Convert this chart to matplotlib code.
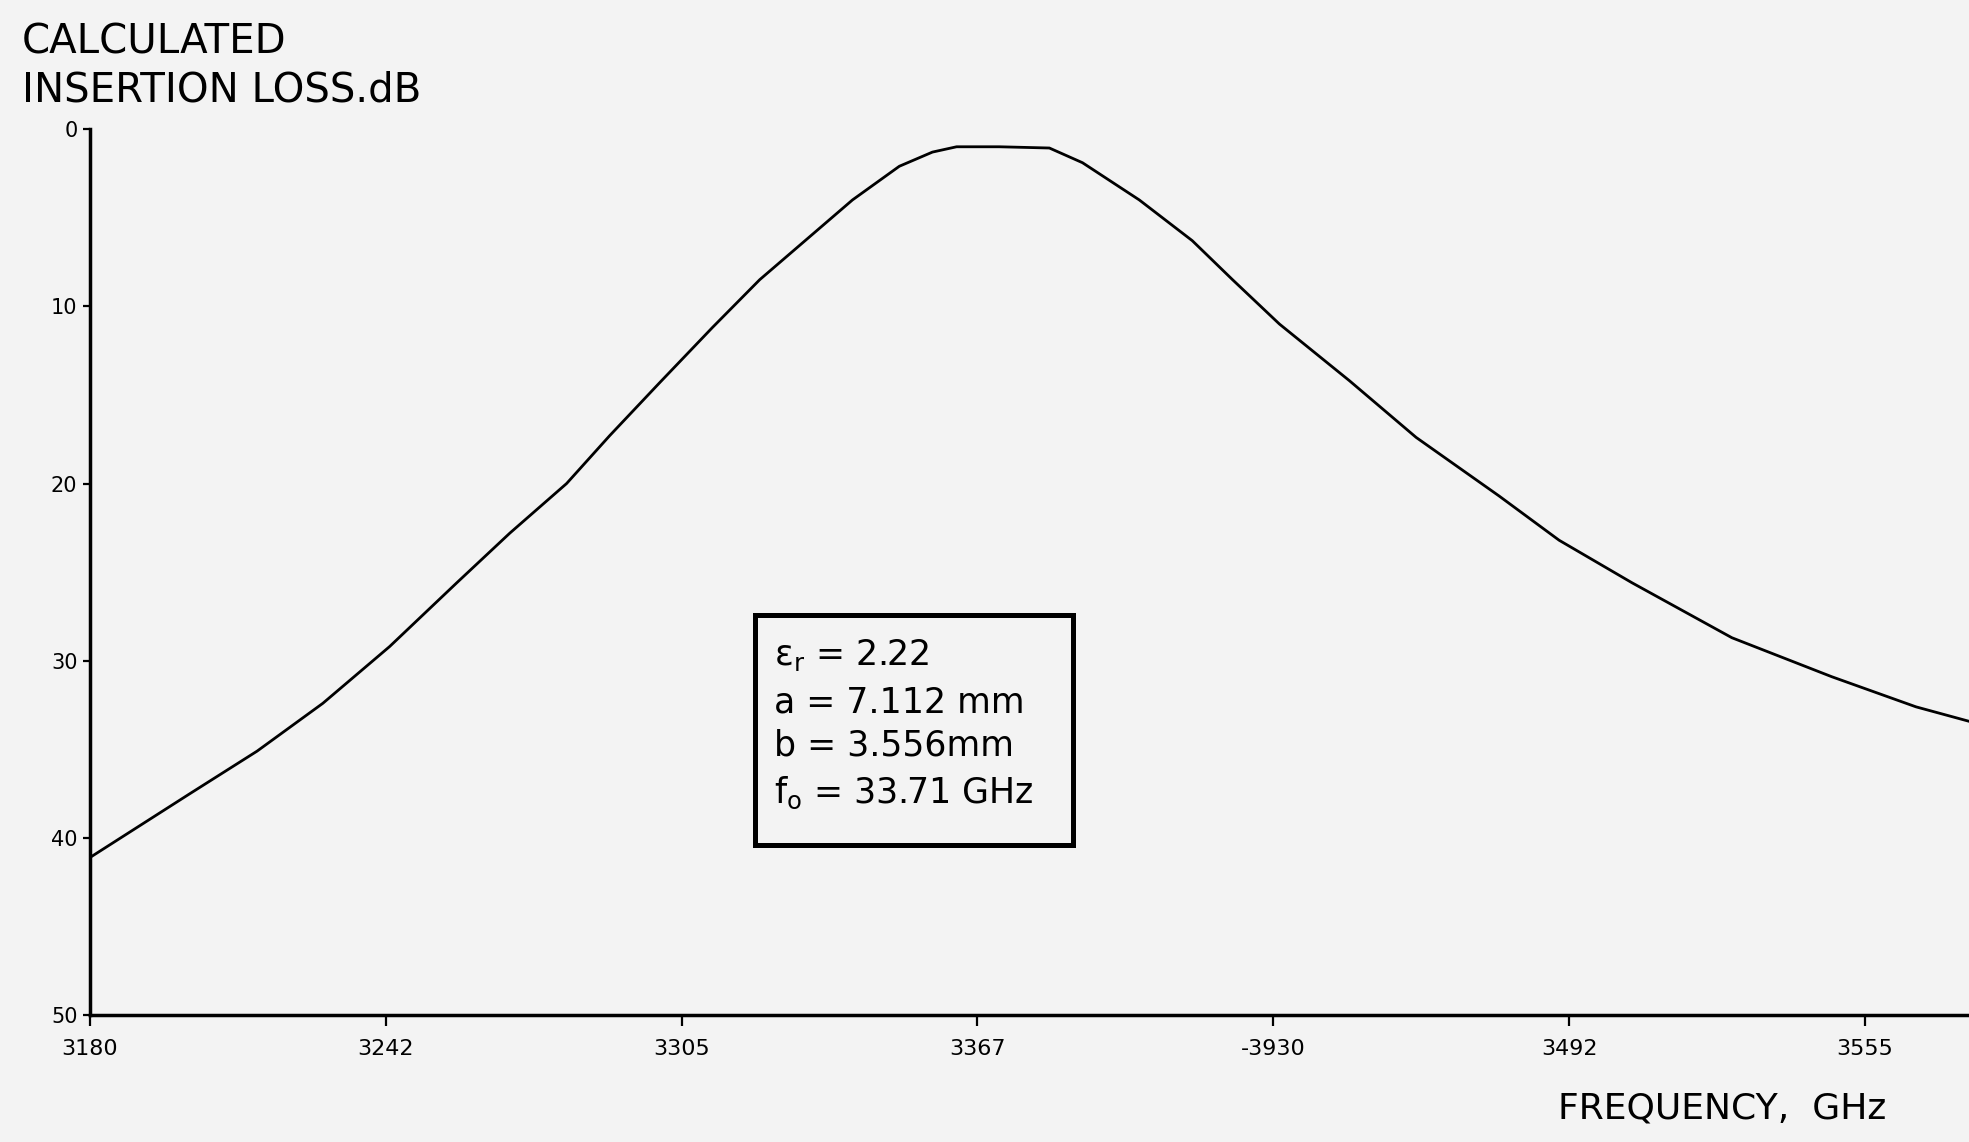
import numpy as np
import matplotlib; matplotlib.use("Agg")
import matplotlib.pyplot as plt
from matplotlib.patches import Rectangle

# frequency (GHz) vs calculated insertion loss (dB)
freq = [31.800, 32.011, 32.153, 32.292, 32.433, 32.575, 32.687, 32.807, 32.898, 33.004,
        33.115, 33.215, 33.411, 33.510, 33.580, 33.631, 33.721, 33.827, 33.897, 34.017,
        34.129, 34.214, 34.313, 34.461, 34.602, 34.777, 34.904, 35.058, 35.269, 35.480,
        35.658, 35.768]
loss = [41.1, 37.5, 35.1, 32.4, 29.2, 25.6, 22.8, 20.0, 17.3, 14.3,
        11.2, 8.5, 4.0, 2.1, 1.3, 1.0, 1.0, 1.07, 1.9, 4.0,
        6.3, 8.5, 11.0, 14.2, 17.4, 20.7, 23.2, 25.6, 28.7, 30.9,
        32.6, 33.4]
xticks = [31.80, 32.425, 33.05, 33.675, 34.30, 34.925, 35.55]
xlabels = ["3180", "3242", "3305", "3367", "-3930", "3492", "3555"]
yticks = [0, 10, 20, 30, 40, 50]
box_lines = ["ε$_{\\mathrm{r}}$ = 2.22", "a = 7.112 mm", "b = 3.556mm", "f$_{\\mathrm{o}}$ = 33.71 GHz"]

BG = "#f3f3f3"
fig = plt.figure(figsize=(19.69, 11.42), dpi=100, facecolor=BG)
ax = fig.add_axes([0.0457, 0.111, 0.9543, 0.776], facecolor=BG)

ax.plot(freq, loss, color="black", lw=2.0, solid_joinstyle="round")
ax.set_xlim(31.80, 35.77); ax.set_ylim(50, 0)
ax.set_xticks(xticks); ax.set_xticklabels(xlabels, fontsize=16)
ax.set_yticks(yticks); ax.set_yticklabels([str(v) for v in yticks], fontsize=15)
ax.tick_params(axis="x", direction="out", length=8, width=1.6, pad=9)
ax.tick_params(axis="y", direction="out", length=5, width=1.6, pad=4)
for s in ["top", "right"]: ax.spines[s].set_visible(False)
for s in ["left", "bottom"]: ax.spines[s].set_linewidth(2.5)

fig.text(0.011, 0.963, "CALCULATED", fontsize=29, va="center", ha="left")
fig.text(0.011, 0.921, "INSERTION LOSS.dB", fontsize=29, va="center", ha="left")
fig.text(0.958, 0.029, "FREQUENCY,  GHz", fontsize=26, va="center", ha="right")

# parameter box
ax.add_patch(Rectangle((0.3539, 0.1919), 0.1693, 0.2596, transform=ax.transAxes,
                       facecolor="none", edgecolor="black", lw=3.6, zorder=3))
for txt, yb in zip(box_lines, [0.3950, 0.3420, 0.2935, 0.2393]):
    ax.text(0.364, yb, txt, transform=ax.transAxes, fontsize=25, va="baseline",
            ha="left", math_fontfamily="dejavusans")

plt.savefig("out.png", dpi=100, facecolor=BG)
